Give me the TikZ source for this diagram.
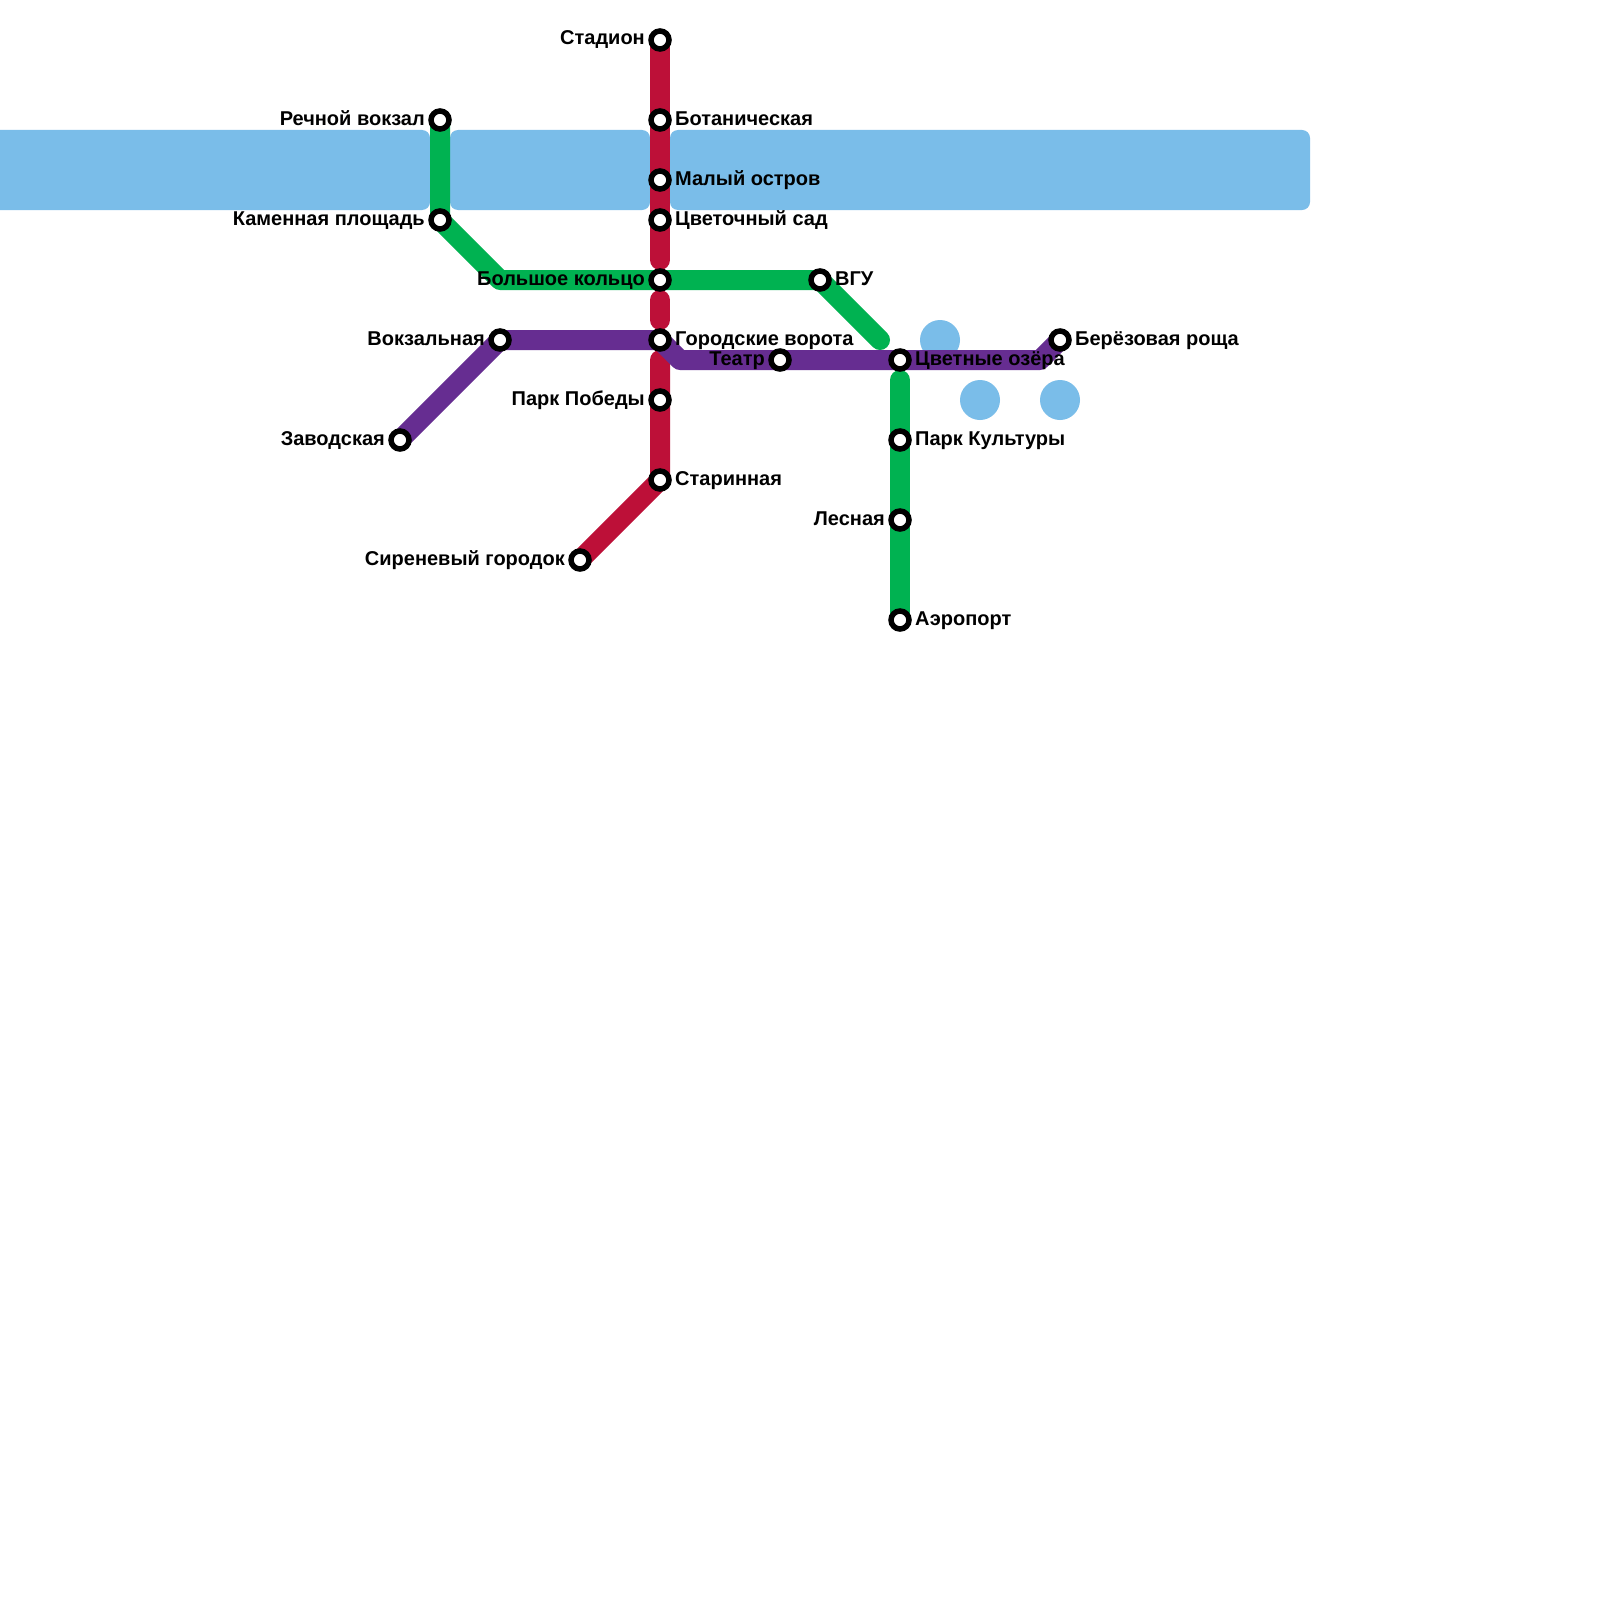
\documentclass[tikz,border=0pt]{standalone}
\usepackage{fontspec}
\setmainfont{Liberation Sans}
\usetikzlibrary{backgrounds}
\definecolor{water}{HTML}{7ABDE9}
\definecolor{redline}{HTML}{BD1038}
\definecolor{greenline}{HTML}{00B251}
\definecolor{purpleline}{HTML}{662D91}
\tikzset{
  station/.style={circle,draw=black,fill=white,line width=5.5pt,minimum size=18pt,inner sep=0pt},
  metro/.style={line width=20pt,line join=round},
  capped/.style={metro,line cap=round},
  lake/.style={fill=water,rounded corners=8pt},
  pond/.style={fill=water},
  lblr/.style={anchor=base west,inner sep=0pt,font=\fontsize{20}{24}\selectfont\bfseries,text=black},
  lbll/.style={anchor=base east,inner sep=0pt,font=\fontsize{20}{24}\selectfont\bfseries,text=black}
}
\begin{document}
\begin{tikzpicture}[x=1pt,y=-1pt]
\useasboundingbox (0,0) rectangle (1600,1600);
\clip (0,0) rectangle (1600,1600);
% stations
\node[station] (rech) at (440,120) {};
\node[station] (kam) at (440,220) {};
\node[station] (stad) at (660,40) {};
\node[station] (bot) at (660,120) {};
\node[station] (mal) at (660,180) {};
\node[station] (cvet) at (660,220) {};
\node[station] (bol) at (660,280) {};
\node[station] (gor) at (660,340) {};
\node[station] (park) at (660,400) {};
\node[station] (star) at (660,480) {};
\node[station] (sir) at (580,560) {};
\node[station] (vok) at (500,340) {};
\node[station] (zav) at (400,440) {};
\node[station] (vgu) at (820,280) {};
\node[station] (oz) at (900,360) {};
\node[station] (teatr) at (780,360) {};
\node[station] (ber) at (1060,340) {};
\node[station] (kult) at (900,440) {};
\node[station] (les) at (900,520) {};
\node[station] (aero) at (900,620) {};
% free ends and bends
\coordinate (redA) at (660,260);
\coordinate (redB) at (660,300);
\coordinate (redC) at (660,320);
\coordinate (redD) at (660,360);
\coordinate (grBend) at (500,280);
\coordinate (grEnd) at (880,340);
\coordinate (grTop) at (900,380);
\coordinate (puA) at (680,360);
\coordinate (puB) at (1040,360);
% labels
\node[lbll] (lrech) at (425,125) {Речной вокзал};
\node[lbll] (lkam) at (425,225) {Каменная площадь};
\node[lbll] (lstad) at (645,45) {Стадион};
\node[lblr] (lbot) at (675,125) {Ботаническая};
\node[lblr] (lmal) at (675,185) {Малый остров};
\node[lblr] (lcvet) at (675,225) {Цветочный сад};
\node[lbll] (lbol) at (645,285) {Большое кольцо};
\node[lblr] (lgor) at (675,345) {Городские ворота};
\node[lbll] (lpark) at (645,405) {Парк Победы};
\node[lblr] (lstar) at (675,485) {Старинная};
\node[lbll] (lsir) at (565,565) {Сиреневый городок};
\node[lbll] (lvok) at (485,345) {Вокзальная};
\node[lbll] (lzav) at (385,445) {Заводская};
\node[lblr] (lvgu) at (835,285) {ВГУ};
\node[lblr] (loz) at (915,365) {Цветные озёра};
\node[lbll] (lteatr) at (765,365) {Театр};
\node[lblr] (lber) at (1075,345) {Берёзовая роща};
\node[lblr] (lkult) at (915,445) {Парк Культуры};
\node[lbll] (lles) at (885,525) {Лесная};
\node[lblr] (laero) at (915,625) {Аэропорт};
\begin{scope}[on background layer]
\fill[white] (0,0) rectangle (1600,1600);
\fill[lake] (-30,130) rectangle (430,210);
\fill[lake] (450,130) rectangle (650,210);
\fill[lake] (670,130) rectangle (1310,210);
\fill[pond] (940,340) circle (20);
\fill[pond] (980,400) circle (20);
\fill[pond] (1060,400) circle (20);
\draw[capped,redline] (stad.center) -- (redA);
\draw[capped,redline] (redB) -- (redC);
\draw[capped,redline] (redD) -- (star.center) -- (sir.center);
\draw[metro,greenline] (rech.center) -- (kam.center) -- (grBend) -- (vgu.center);
\draw[capped,greenline] (vgu.center) -- (grEnd);
\draw[capped,greenline] (grTop) -- (aero.center);
\draw[metro,purpleline] (zav.center) -- (vok.center) -- (gor.center) -- (puA) -- (puB) -- (ber.center);
\end{scope}
\end{tikzpicture}
\end{document}
